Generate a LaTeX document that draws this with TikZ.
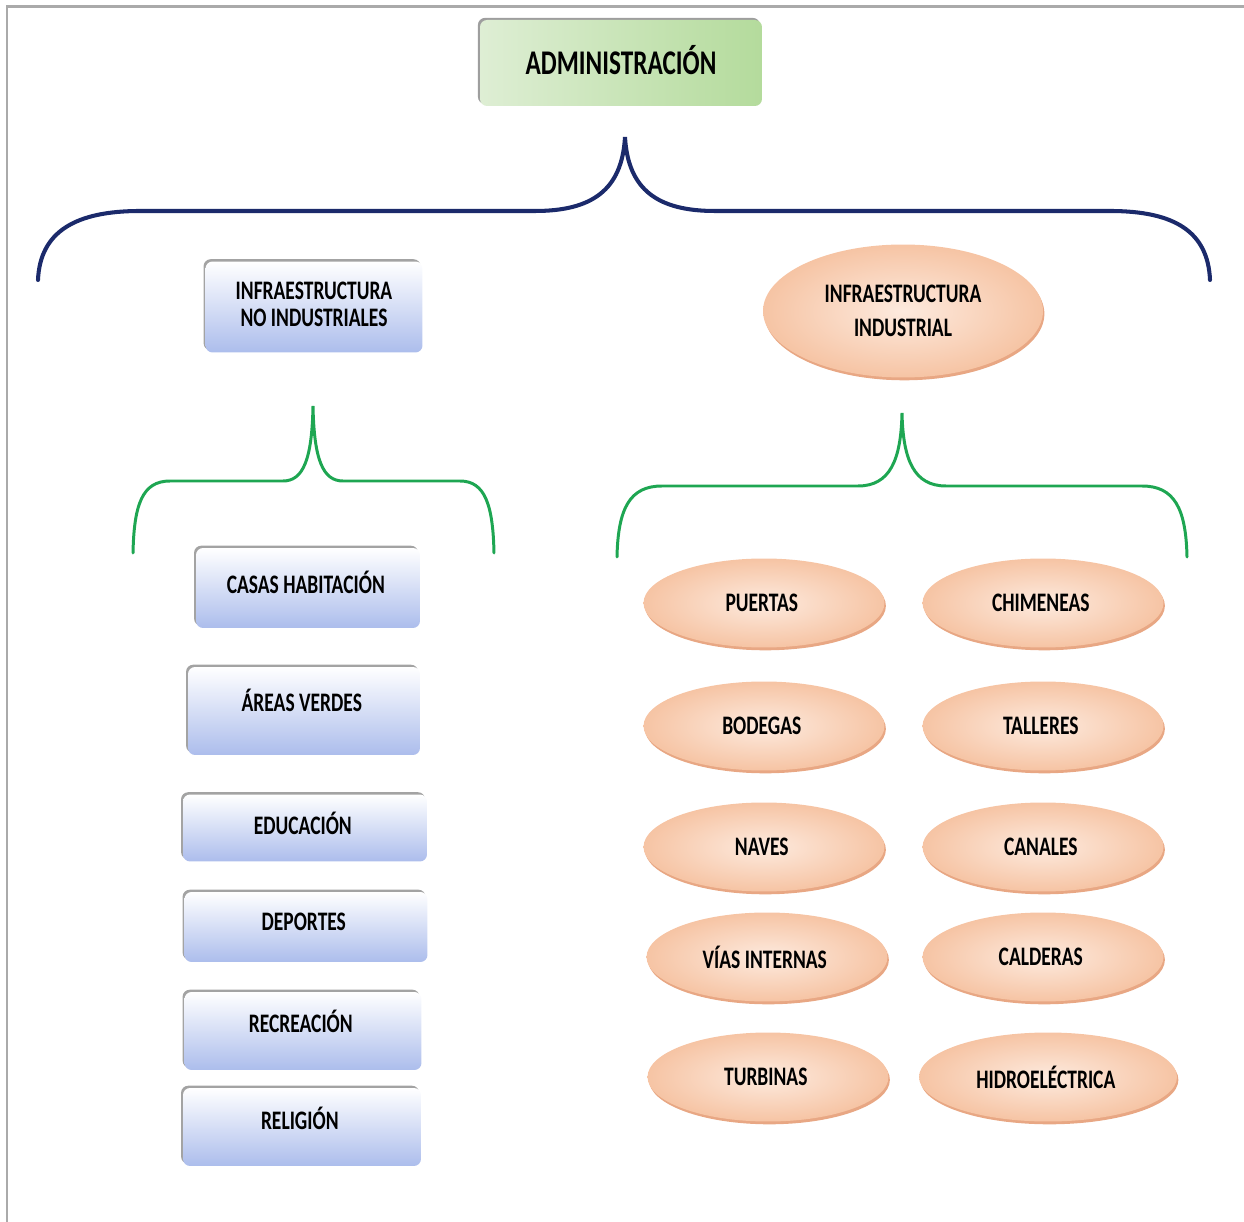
\documentclass[tikz,border=0pt]{standalone}
\usepackage{fontspec}
\newfontfamily\labelfont{Carlito}[FakeStretch=0.73]
\usetikzlibrary{
    positioning,
    shapes.geometric,
    shadows
}

\definecolor{bracenavy}{RGB}{27,42,107}
\definecolor{bracegreen}{RGB}{30,166,82}
\definecolor{boxblue}{RGB}{172,189,236}
\definecolor{peach}{RGB}{246,196,164}
\definecolor{peachdark}{RGB}{228,152,110}
\definecolor{peachlight}{RGB}{253,234,222}
\definecolor{framegray}{RGB}{170,170,170}
\definecolor{greenlight}{RGB}{222,238,212}
\definecolor{greendark}{RGB}{180,219,156}

\begin{document}
\begin{tikzpicture}[
    x=0.02cm,
    y=-0.02cm,
    font=\labelfont\bfseries\fontsize{15.2}{15.4}\selectfont,
    titlebox/.style={
        rectangle,
        rounded corners=4pt,
        left color=greenlight,
        right color=greendark,
        minimum width=5.64cm,
        minimum height=1.72cm,
        text height=16pt,
        text depth=3pt,
        font=\labelfont\bfseries\fontsize{19.7}{20}\selectfont,
        drop shadow={shadow xshift=-1.2pt,shadow yshift=1.2pt,fill=gray!85,opacity=0.9}
    },
    bluebox/.style={
        rectangle,
        rounded corners=4pt,
        top color=white,
        bottom color=boxblue,
        align=center,
        inner sep=0pt,
        text height=10pt,
        drop shadow={shadow xshift=-1.1pt,shadow yshift=1.3pt,fill=gray!80,opacity=0.9}
    },
    lift/.style={text depth=#1},
    peachoval/.style={
        ellipse,
        inner color=peachlight,
        outer color=peach,
        align=center,
        inner sep=0pt,
        minimum width=4.82cm,
        minimum height=1.78cm,
        drop shadow={shadow xshift=0.8pt,shadow yshift=-1.6pt,fill=peachdark,opacity=0.85}
    },
    navybrace/.style={
        draw=bracenavy,
        line width=2.3pt,
        line cap=round
    },
    greenbrace/.style={
        draw=bracegreen,
        line width=1.7pt,
        line cap=round
    }
]
\useasboundingbox (0,0) rectangle (1244,1222);

% frame
\draw[framegray,line width=1.7pt] (7,1222) -- (7,7) -- (1244,7);

%--------------------------------------------------
\node[titlebox] (admin) at (621,63)
{
ADMINISTRACIÓN
};

\node[bluebox,text height=22.6pt,minimum width=4.34cm,minimum height=1.82cm] (noind) at (314,307)
{
INFRAESTRUCTURA
\\
NO INDUSTRIALES
};

\node[peachoval,minimum width=5.6cm,minimum height=2.66cm] (ind) at (903,311)
{
INFRAESTRUCTURA
\\[4pt]
INDUSTRIAL
};

%--------------------------------------------------
% no industriales
\node[bluebox,lift=4pt,minimum width=4.48cm,minimum height=1.6cm] (casas) at (308,588)
{
CASAS HABITACIÓN
};

\node[bluebox,lift=9pt,minimum width=4.64cm,minimum height=1.76cm] (areas) at (304,711)
{
ÁREAS VERDES
};

\node[bluebox,lift=3pt,minimum width=4.88cm,minimum height=1.34cm] (educacion) at (305,828)
{
EDUCACIÓN
};

\node[bluebox,lift=6pt,minimum width=4.86cm,minimum height=1.4cm] (deportes) at (306,927)
{
DEPORTES
};

\node[bluebox,lift=8pt,minimum width=4.74cm,minimum height=1.56cm] (recreacion) at (303,1031)
{
RECREACIÓN
};

\node[bluebox,lift=7pt,minimum width=4.76cm,minimum height=1.56cm] (religion) at (302,1127)
{
RELIGIÓN
};

%--------------------------------------------------
% industrial
\node[peachoval] (puertas) at (764,603)
{
PUERTAS
};

\node[peachoval] (chimeneas) at (1043,603)
{
CHIMENEAS
};

\node[peachoval] (bodegas) at (764,726)
{
BODEGAS
};

\node[peachoval] (talleres) at (1043,726)
{
TALLERES
};

\node[peachoval] (naves) at (764,847)
{
NAVES
};

\node[peachoval] (canales) at (1043,847)
{
CANALES
};

\node[peachoval] (vias) at (767,957)
{
VÍAS INTERNAS
};

\node[peachoval] (calderas) at (1043,957)
{
CALDERAS
};

\node[peachoval] (turbinas) at (768,1077)
{
TURBINAS
};

\node[peachoval,minimum width=5.16cm] (hidro) at (1048,1077)
{
HIDROELÉCTRICA
};

%--------------------------------------------------
% braces
\coordinate (maintip) at (625,137);
\coordinate (noindtip) at (313,406);
\coordinate (indtip) at (902,413);

\draw[navybrace] (38,280) .. controls (40,232) and (75,211) .. (140,211)
    -- (535,211) .. controls (592,211) and (622,190) .. (maintip)
    .. controls (628,190) and (658,211) .. (715,211)
    -- (1110,211) .. controls (1175,211) and (1208,232) .. (1210,280);

\draw[greenbrace] (133,553) .. controls (134,505) and (142,481) .. (170,481)
    -- (283,481) .. controls (303,481) and (312,460) .. (noindtip)
    .. controls (314,460) and (323,481) .. (343,481)
    -- (460,481) .. controls (485,481) and (493,505) .. (494,553);

\draw[greenbrace] (617,557) .. controls (618,508) and (630,486) .. (662,486)
    -- (858,486) .. controls (890,486) and (901,460) .. (indtip)
    .. controls (903,460) and (914,486) .. (946,486)
    -- (1142,486) .. controls (1174,486) and (1186,508) .. (1187,557);

\end{tikzpicture}
\end{document}
